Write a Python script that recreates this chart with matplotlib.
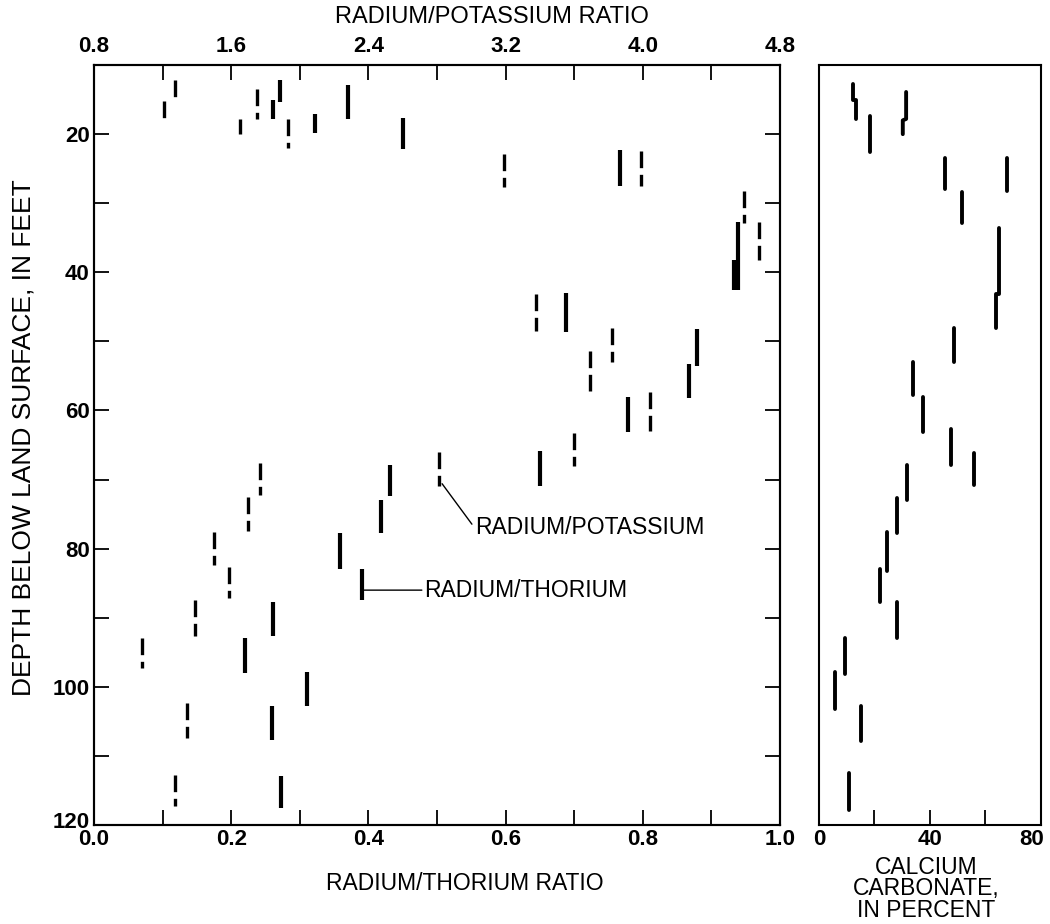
"""
Radium/thorium, radium/potassium and calcium carbonate profiles with depth.
"""

import matplotlib
matplotlib.use('Agg')
import matplotlib.pyplot as plt
import matplotlib.transforms as mtransforms
from matplotlib.ticker import MultipleLocator, FixedLocator

plt.rcParams['font.family'] = ['Liberation Sans', 'DejaVu Sans']

# Radium/thorium ratio intervals (solid marks): ratio, top depth, bottom depth (ft)
th_ratio = [0.261, 0.271, 0.322, 0.370, 0.451, 0.767, 0.939, 0.933, 0.688, 0.879,
            0.868, 0.778, 0.650, 0.432, 0.419, 0.358, 0.391, 0.261, 0.220, 0.310,
            0.260, 0.272]
th_top = [15.0, 12.1, 17.1, 12.9, 17.6, 22.3, 32.7, 38.2, 43.0, 48.2,
          53.3, 58.1, 65.8, 67.9, 72.9, 77.7, 82.9, 87.7, 92.9, 97.9,
          102.8, 112.9]
th_bot = [17.8, 15.4, 19.9, 17.8, 22.2, 27.5, 42.6, 42.6, 48.7, 53.5,
          58.2, 63.1, 71.0, 72.4, 77.8, 83.0, 87.5, 92.6, 98.0, 102.7,
          107.7, 117.5]

# Radium/potassium ratio intervals (dashed marks)
k_ratio = [1.21, 1.27, 1.65, 1.75, 1.93, 3.19, 3.99, 4.59, 4.68, 3.38,
           3.82, 3.69, 4.04, 3.60, 2.81, 1.77, 1.70, 1.50, 1.59, 1.39,
           1.08, 1.34, 1.27]
k_top = [15.2, 12.1, 17.8, 13.4, 17.8, 22.9, 22.4, 28.2, 32.7, 43.2,
         48.0, 51.4, 57.3, 63.2, 66.0, 67.6, 72.5, 77.6, 82.6, 87.5,
         92.9, 102.4, 112.7]
k_bot = [17.9, 15.0, 20.0, 17.8, 22.0, 27.7, 27.5, 32.9, 38.2, 48.5,
         53.0, 57.8, 62.9, 68.0, 71.0, 72.2, 77.4, 82.3, 87.1, 92.6,
         97.2, 107.4, 117.3]

# Calcium carbonate (percent); pieces with the same group id are joined
carb_pct = [12.1, 13.3, 18.4, 31.4, 30.2, 45.4, 67.6, 51.5, 65.0, 63.7,
            48.6, 34.0, 37.4, 47.6, 55.9, 31.6, 28.0, 24.4, 22.0, 28.0,
            9.4, 5.8, 15.0, 10.8]
carb_top = [12.7, 15.0, 17.4, 13.9, 18.0, 23.4, 23.5, 28.4, 33.6, 43.2,
            48.1, 53.0, 58.1, 62.7, 66.2, 67.9, 72.7, 77.6, 82.9, 87.7,
            92.9, 97.8, 102.8, 112.5]
carb_bot = [15.0, 17.8, 22.6, 17.8, 20.0, 27.9, 28.2, 32.9, 43.2, 48.1,
            53.0, 57.8, 63.1, 67.9, 70.8, 72.9, 77.7, 83.2, 87.7, 92.9,
            98.2, 103.2, 107.8, 117.8]
carb_group = [0, 0, 1, 2, 2, 3, 4, 5, 6, 6,
              7, 8, 9, 10, 11, 12, 13, 14, 15, 16,
              17, 18, 19, 20]

TICK_FS = 16
LABEL_FS = 16.5

fig = plt.figure(figsize=(10.5, 9.24), dpi=100)
ax = fig.add_axes([0.0895, 0.1071, 0.6533, 0.8225])
ax_k = ax.twiny()
ax_c = fig.add_axes([0.78, 0.1071, 0.2114, 0.8225], sharey=ax)

# Ra/Th solid marks
for x, t, b in zip(th_ratio, th_top, th_bot):
    ax.plot([x, x], [t, b], color='black', lw=3.0, solid_capstyle='butt')

# Ra/K dashed marks
for x, t, b in zip(k_ratio, k_top, k_bot):
    ax_k.plot([x, x], [t, b], color='black', lw=2.4,
              linestyle=(0, (5, 2)), dash_capstyle='butt')

# CaCO3 marks
groups = {}
for g, v, t, b in zip(carb_group, carb_pct, carb_top, carb_bot):
    groups.setdefault(g, []).append((v, t, b))
for pieces in groups.values():
    xs, ys = [], []
    for v, t, b in pieces:
        xs += [v, v]
        ys += [t, b]
    ax_c.plot(xs, ys, color='black', lw=2.8, solid_capstyle='round',
              solid_joinstyle='round')

# axes limits
ax.set_ylim(120, 10)
ax.set_xlim(0.0, 1.0)
ax_k.set_xlim(0.8, 4.8)
ax_c.set_xlim(0, 80)

tick_kw = dict(direction='in', length=11, width=1.3, colors='black')

ax.xaxis.set_major_locator(MultipleLocator(0.2))
ax.xaxis.set_minor_locator(MultipleLocator(0.1))
ax.set_xticklabels([f'{v:.1f}' for v in ax.get_xticks()])
ax.yaxis.set_major_locator(FixedLocator([20, 40, 60, 80, 100, 120]))
ax.yaxis.set_minor_locator(FixedLocator([30, 50, 70, 90, 110]))
ax.tick_params(axis='both', which='both', right=True, top=False, **tick_kw)
ax.tick_params(axis='x', which='both', pad=3, labelsize=TICK_FS)
ax.tick_params(axis='y', which='both', pad=3, labelsize=TICK_FS)

ax_k.xaxis.set_major_locator(MultipleLocator(0.8))
ax_k.xaxis.set_minor_locator(MultipleLocator(0.4))
ax_k.tick_params(axis='x', which='both', pad=6, labelsize=TICK_FS, **tick_kw)

ax_c.xaxis.set_major_locator(FixedLocator([0, 40, 80]))
ax_c.xaxis.set_minor_locator(FixedLocator([20, 60]))
ax_c.tick_params(axis='x', which='both', pad=3, labelsize=TICK_FS, **tick_kw)
ax_c.tick_params(axis='y', which='both', left=False, labelleft=False)

for a in (ax, ax_k, ax_c):
    for s in a.spines.values():
        s.set_linewidth(1.5)
    for lab in a.get_xticklabels() + a.get_yticklabels():
        lab.set_fontweight('bold')

# nudge the corner labels the way the original drafting has them
lab120 = ax.yaxis.get_major_ticks()[-1].label1
lab120.set_transform(lab120.get_transform()
                     + mtransforms.ScaledTranslation(0, 5 / 100, fig.dpi_scale_trans))
lab80 = ax_c.xaxis.get_major_ticks()[-1].label1
lab80.set_transform(lab80.get_transform()
                    + mtransforms.ScaledTranslation(-9 / 100, 0, fig.dpi_scale_trans))

# labels
fig.text(492 / 1050, 1 - 17 / 924, 'RADIUM/POTASSIUM RATIO', ha='center',
         va='center', fontsize=17)
fig.text(465 / 1050, 1 - 883 / 924, 'RADIUM/THORIUM RATIO', ha='center',
         va='center', fontsize=LABEL_FS)
fig.text(24 / 1050, 1 - 438 / 924, 'DEPTH BELOW LAND SURFACE, IN FEET',
         ha='center', va='center', rotation=90, fontsize=19)
fig.text(926 / 1050, 1 - 889 / 924, 'CALCIUM\nCARBONATE,\nIN PERCENT',
         ha='center', va='center', fontsize=LABEL_FS, linespacing=0.9)

# leader-line labels
ax_k.annotate('RADIUM/POTASSIUM', xy=(2.83, 70.6), xytext=(3.02, 77.0),
              fontsize=LABEL_FS, ha='left', va='center',
              arrowprops=dict(arrowstyle='-', lw=1.0, color='black',
                              shrinkA=0, shrinkB=0, relpos=(0, 0.5)))
ax.annotate('RADIUM/THORIUM', xy=(0.393, 86.0), xytext=(0.482, 86.0),
            fontsize=LABEL_FS, ha='left', va='center',
            arrowprops=dict(arrowstyle='-', lw=1.0, color='black',
                            shrinkA=0, shrinkB=0, relpos=(0, 0.5)))

fig.savefig('out.png', dpi=100)
plt.close(fig)
